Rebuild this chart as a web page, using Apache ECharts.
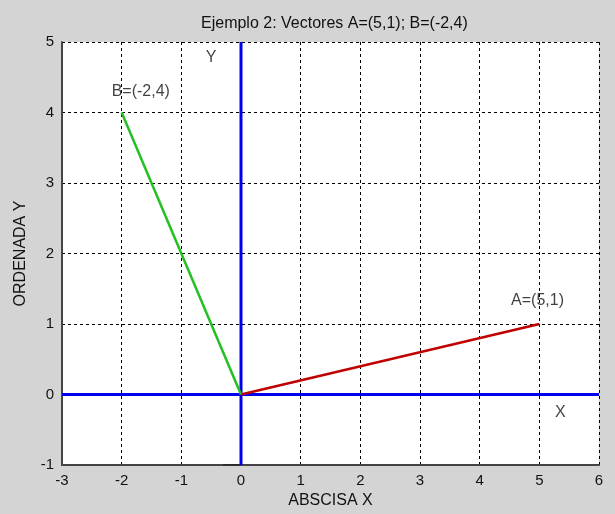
<!DOCTYPE html>
<html><head><meta charset="utf-8">
<script src="https://cdn.jsdelivr.net/npm/echarts@6/dist/echarts.min.js"></script>
<style>html,body{margin:0;padding:0;background:#d4d4d4}#c{width:615px;height:514px}</style>
</head><body><div id="c"></div>
<script>
const xTicks = [-3,-2,-1,0,1,2,3,4,5,6];
const yTicks = [-1,0,1,2,3,4,5];
const vectorA = [[0,0],[5,1]];
const vectorB = [[0,0],[-2,4]];
const axisX = [[-3,0],[6,0]];
const axisY = [[0,-1],[0,5]];
const stub = [[-0.3,-1],[0,-1]];
const labels = [
  {name:'Y', value:[-0.5,4.78]},
  {name:'B=(-2,4)', value:[-1.68,4.3]},
  {name:'A=(5,1)', value:[4.97,1.33]},
  {name:'X', value:[5.35,-0.25]}
];
const font = 'Liberation Sans, Arial, sans-serif';
const chart = echarts.init(document.getElementById('c'));
chart.setOption({
  backgroundColor:'#d4d4d4',
  animation:false,
  title:{text:'Ejemplo 2: Vectores A=(5,1); B=(-2,4)', left:196, top:11,
    textStyle:{fontFamily:font, fontSize:16, fontWeight:'normal', color:'#111'}},
  grid:{left:62, right:16, top:42, bottom:49, show:true, backgroundColor:'#fff', borderWidth:0},
  xAxis:{type:'value', min:-3, max:6, interval:1, name:'ABSCISA X', nameLocation:'middle', nameGap:28,
    nameTextStyle:{fontFamily:font, fontSize:16, color:'#111'},
    axisLine:{show:true, onZero:false, lineStyle:{color:'#444', width:2}},
    axisTick:{show:false},
    axisLabel:{fontFamily:font, fontSize:15, color:'#111', margin:8},
    splitLine:{show:true, lineStyle:{color:'#000', type:[3,3], width:1}}},
  yAxis:{type:'value', min:-1, max:5, interval:1, name:'ORDENADA Y', nameLocation:'middle', nameGap:33,
    nameTextStyle:{fontFamily:font, fontSize:16, color:'#111'},
    axisLine:{show:true, onZero:false, lineStyle:{color:'#444', width:2}},
    axisTick:{show:false},
    axisLabel:{fontFamily:font, fontSize:15, color:'#111', margin:8},
    splitLine:{show:true, lineStyle:{color:'#000', type:[3,3], width:1}}},
  series:[
    {type:'line', data:stub, symbol:'none', lineStyle:{color:'#222', width:1.5}, z:3},
    {type:'line', data:axisX, symbol:'none', lineStyle:{color:'#0000ee', width:3}, z:4},
    {type:'line', data:axisY, symbol:'none', lineStyle:{color:'#0000ee', width:3}, z:4},
    {type:'line', data:vectorA, symbol:'none', lineStyle:{color:'#c00000', width:2.5}, z:5},
    {type:'line', data:vectorB, symbol:'none', lineStyle:{color:'#22c022', width:2.5}, z:5},
    {type:'scatter', data:labels, symbolSize:0, z:6,
      label:{show:true, position:'inside', formatter:p=>p.name, fontFamily:font, fontSize:16, color:'#111'}}
  ]
});
</script></body></html>
